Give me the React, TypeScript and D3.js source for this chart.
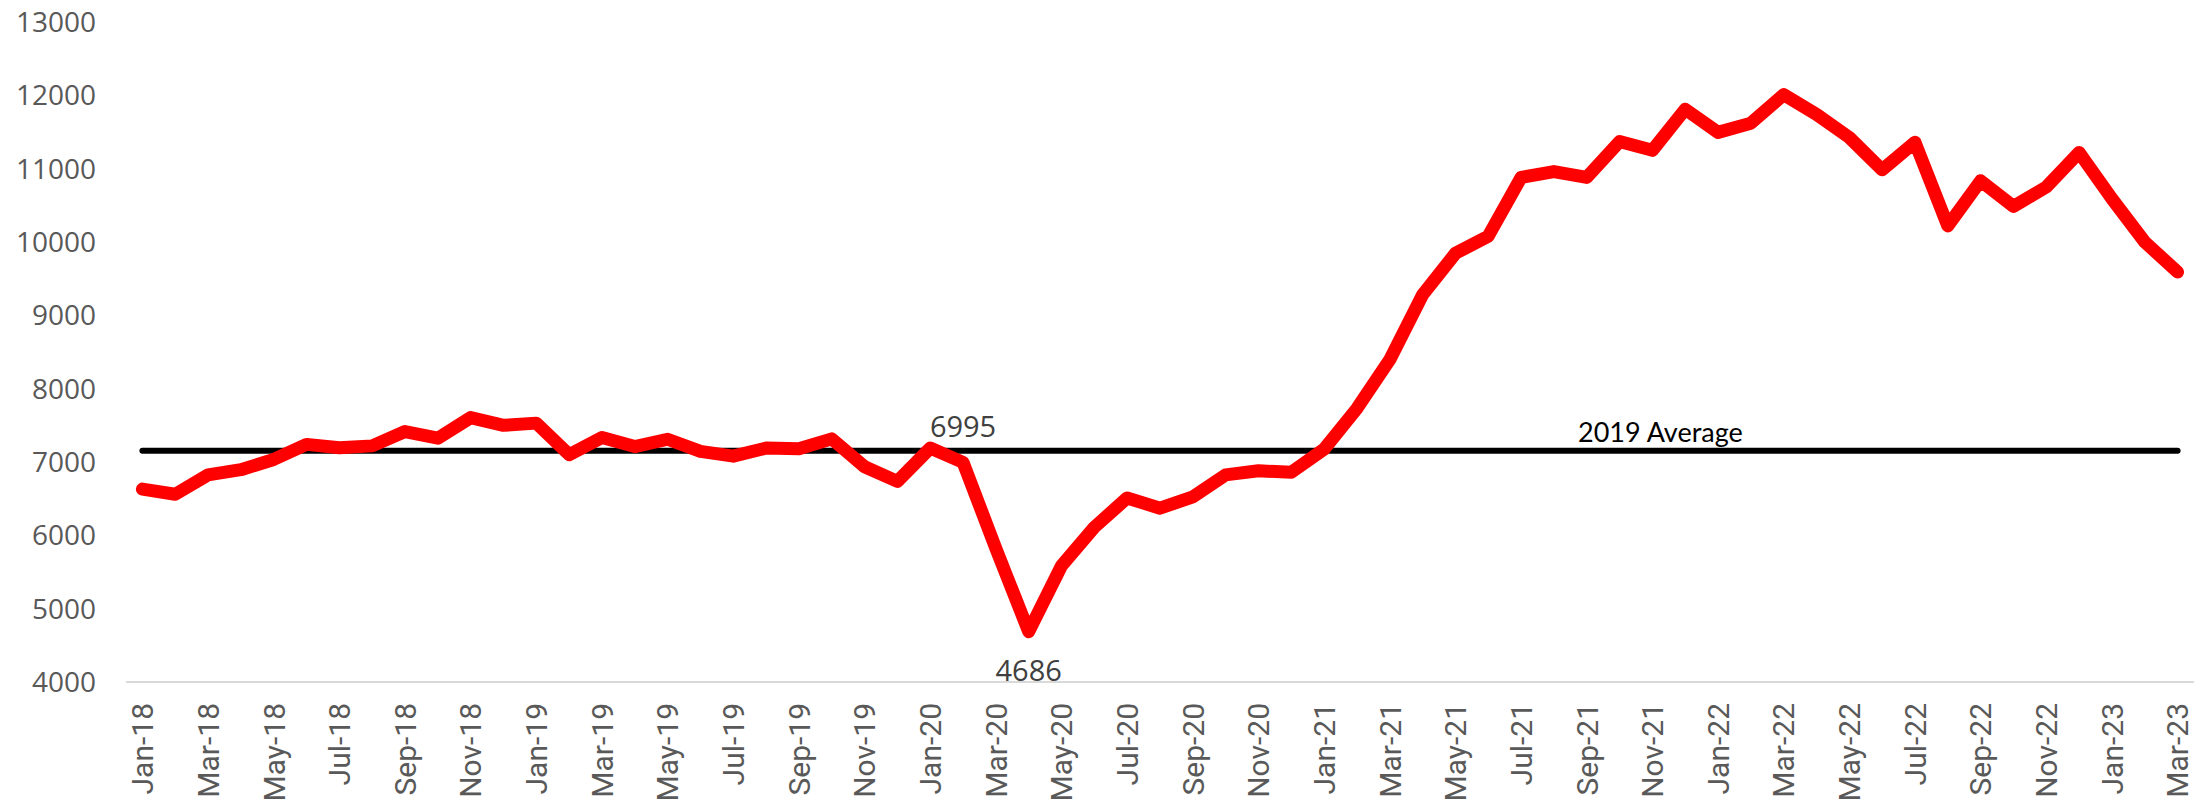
import React, { useEffect, useRef } from "react";
import * as d3 from "d3";

const months = [
  "Jan-18", "Feb-18", "Mar-18", "Apr-18", "May-18", "Jun-18", "Jul-18", "Aug-18", "Sep-18", "Oct-18", "Nov-18", "Dec-18",
  "Jan-19", "Feb-19", "Mar-19", "Apr-19", "May-19", "Jun-19", "Jul-19", "Aug-19", "Sep-19", "Oct-19", "Nov-19", "Dec-19",
  "Jan-20", "Feb-20", "Mar-20", "Apr-20", "May-20", "Jun-20", "Jul-20", "Aug-20", "Sep-20", "Oct-20", "Nov-20", "Dec-20",
  "Jan-21", "Feb-21", "Mar-21", "Apr-21", "May-21", "Jun-21", "Jul-21", "Aug-21", "Sep-21", "Oct-21", "Nov-21", "Dec-21",
  "Jan-22", "Feb-22", "Mar-22", "Apr-22", "May-22", "Jun-22", "Jul-22", "Aug-22", "Sep-22", "Oct-22", "Nov-22", "Dec-22",
  "Jan-23", "Feb-23", "Mar-23",
];

const values = [
  6630, 6560, 6825, 6895, 7035, 7240, 7195, 7220, 7415, 7325, 7605, 7500,
  7530, 7100, 7335, 7210, 7310, 7145, 7080, 7190, 7180, 7315, 6935, 6735,
  7190, 6995, 5820, 4686, 5585, 6110, 6510, 6370, 6525, 6825, 6880, 6860,
  7175, 7730, 8395, 9280, 9845, 10080, 10880, 10960, 10880, 11370, 11250, 11810,
  11495, 11620, 12010, 11740, 11425, 10985, 11360, 10220, 10835, 10485, 10750, 11220,
  10590, 10000, 9590,
];

// every other month gets a label on the axis
const tickMonths = months.filter((d, i) => i % 2 === 0);
const yTicks = [4000, 5000, 6000, 7000, 8000, 9000, 10000, 11000, 12000, 13000];

const average2019 = 7155;
const averageLabel = "2019 Average";
const callouts = [
  { month: "Feb-20", value: 6995, above: true },
  { month: "Apr-20", value: 4686, above: false },
];

const W = 2211;
const H = 801;

export default function App() {
  const ref = useRef<SVGSVGElement>(null);

  useEffect(() => {
    const svg = d3.select(ref.current);
    svg.selectAll("*").remove();

    const x = d3.scalePoint<string>().domain(months).range([126, 2194]).padding(0.5);
    const y = d3.scaleLinear().domain([4000, 13000]).range([682, 22]);

    // y labels
    svg.append("g")
      .selectAll("text")
      .data(yTicks)
      .join("text")
      .attr("x", 96)
      .attr("y", (d) => y(d))
      .attr("dy", "0.36em")
      .attr("text-anchor", "end")
      .attr("font-family", "'Open Sans', sans-serif")
      .attr("font-size", 28)
      .attr("fill", "#595959")
      .text((d) => d);

    // x axis line
    svg.append("line")
      .attr("x1", x.range()[0])
      .attr("x2", x.range()[1])
      .attr("y1", y(4000))
      .attr("y2", y(4000))
      .attr("stroke", "#d9d9d9")
      .attr("stroke-width", 2);

    // x labels, rotated
    svg.append("g")
      .selectAll("text")
      .data(tickMonths)
      .join("text")
      .attr("transform", (d) => `translate(${x(d)},703) rotate(-90)`)
      .attr("dy", "0.36em")
      .attr("text-anchor", "end")
      .attr("font-family", "'Liberation Sans Narrow', 'Roboto', sans-serif")
      .attr("font-size", 30)
      .attr("fill", "#595959")
      .text((d) => d);

    // 2019 average line
    svg.append("line")
      .attr("x1", x(months[0])!)
      .attr("x2", x(months[months.length - 1])!)
      .attr("y1", y(average2019))
      .attr("y2", y(average2019))
      .attr("stroke", "#000")
      .attr("stroke-width", 6)
      .attr("stroke-linecap", "round");

    svg.append("text")
      .attr("x", x("Nov-21")! + 8)
      .attr("y", y(average2019) - 9)
      .attr("text-anchor", "middle")
      .attr("font-family", "Lato, sans-serif")
      .attr("font-size", 27)
      .attr("fill", "#000")
      .text(averageLabel);

    // the series
    const line = d3.line<number>()
      .x((d, i) => x(months[i])!)
      .y((d) => y(d));

    svg.append("path")
      .datum(values)
      .attr("d", line)
      .attr("fill", "none")
      .attr("stroke", "#ff0000")
      .attr("stroke-width", 13)
      .attr("stroke-linejoin", "round")
      .attr("stroke-linecap", "round");

    // data callouts
    svg.append("g")
      .selectAll("text")
      .data(callouts)
      .join("text")
      .attr("x", (d) => x(d.month)!)
      .attr("y", (d) => (d.above ? y(d.value) - 25 : y(d.value) + 49))
      .attr("text-anchor", "middle")
      .attr("font-family", "'Open Sans', sans-serif")
      .attr("font-size", 29)
      .attr("fill", "#404040")
      .text((d) => d.value);
  }, []);

  return (
    <svg
      ref={ref}
      width={W}
      height={H}
      style={{ position: "absolute", left: 0, top: 0, background: "#fff" }}
    />
  );
}
